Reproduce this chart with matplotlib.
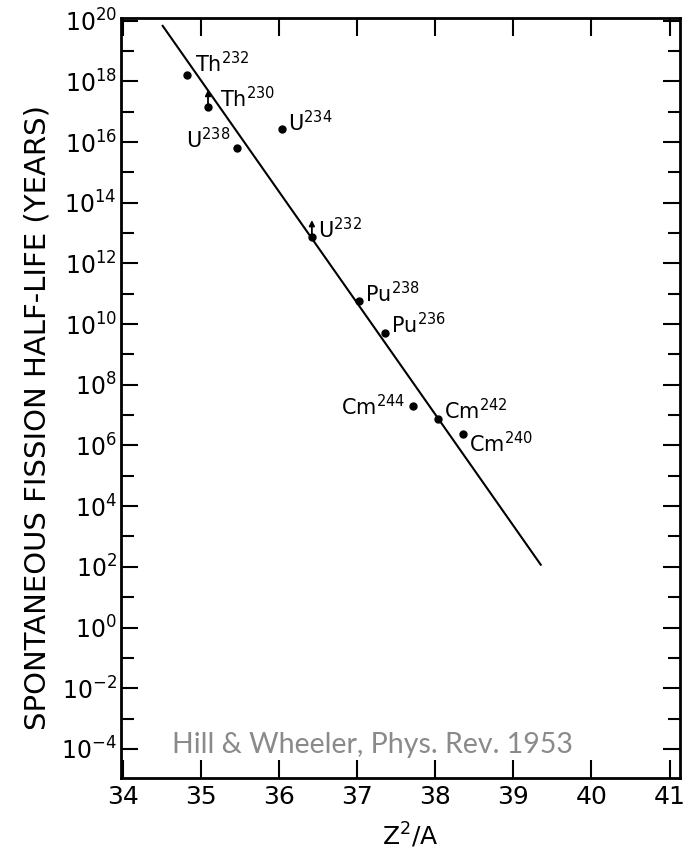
import numpy as np
import matplotlib
matplotlib.use("Agg")
import matplotlib.pyplot as plt
from matplotlib.ticker import FixedLocator, FuncFormatter, NullFormatter
from matplotlib.transforms import ScaledTranslation

plt.rcParams["font.family"] = ["DejaVu Sans"]
plt.rcParams["mathtext.fontset"] = "dejavusans"

# Measured spontaneous-fission half-lives vs fissility parameter Z^2/A
isotopes = ["Th", "Th", "U", "U", "U", "Pu", "Pu", "Cm", "Cm", "Cm"]
mass_numbers = ["232", "230", "238", "234", "232", "238", "236", "244", "242", "240"]
z2_over_a = [34.82, 35.09, 35.46, 36.04, 36.42, 37.02, 37.35, 37.71, 38.03, 38.35]
log10_halflife = [18.21, 17.16, 15.80, 16.43, 12.87, 10.77, 9.71, 7.30, 6.86, 6.39]
lower_limit = [False, True, False, False, True, False, False, False, False, False]

# label placement: offset in pixels (dx, dy) and horizontal alignment
label_dx = [8, 12, -7, 6, 6, 6, 6, -8, 6, 6]
label_dy = [3, 0, 0, -2, -1, -1, 0, -9, 0, -19]
label_ha = ["left", "left", "right", "left", "left", "left", "left", "right", "left", "left"]

# Empirical trend line
trend_x = [34.51, 39.35]
trend_log10 = [19.83, 2.07]

y_major_exp = list(range(-4, 21, 2))
y_minor_exp = list(range(-5, 20, 2))
x_ticks = [34, 35, 36, 37, 38, 39, 40, 41]

fig = plt.figure(figsize=(6.95, 8.57), dpi=100)
ax = fig.add_axes([0.1741, 0.0922, 0.8043, 0.8868])
ax.set_yscale("log")
ax.set_xlim(33.976, 41.133)
ax.set_ylim(10 ** -4.96, 10 ** 20.09)

yvals = np.power(10.0, log10_halflife)
ax.plot(trend_x, np.power(10.0, trend_log10), color="black", lw=1.5, zorder=2)
ax.plot(z2_over_a, yvals, "o", color="black", ms=5, zorder=3)

for x, y, el, a, dx, dy, ha, lim in zip(z2_over_a, yvals, isotopes, mass_numbers,
                                        label_dx, label_dy, label_ha, lower_limit):
    ax.annotate(f"{el}$^{{{a}}}$", xy=(x, y), xytext=(dx, dy), textcoords="offset pixels",
                ha=ha, va="baseline", fontsize=15, color="black")
    if lim:
        up = ax.transData + ScaledTranslation(0, 0.17, fig.dpi_scale_trans)
        ax.annotate("", xy=(x, y), xycoords=up, xytext=(x, y), textcoords="data",
                    arrowprops=dict(arrowstyle="-|>", color="black", lw=1.3,
                                    mutation_scale=8, shrinkA=0, shrinkB=0))

ax.xaxis.set_major_locator(FixedLocator(x_ticks))
ax.yaxis.set_major_locator(FixedLocator([10.0 ** e for e in y_major_exp]))
ax.yaxis.set_minor_locator(FixedLocator([10.0 ** e for e in y_minor_exp]))
ax.yaxis.set_major_formatter(FuncFormatter(lambda v, p: f"$10^{{{int(round(np.log10(v)))}}}$"))
ax.yaxis.set_minor_formatter(NullFormatter())
ax.xaxis.set_minor_locator(FixedLocator([]))

ax.tick_params(axis="both", which="both", direction="in", top=True, right=True, width=1.5)
ax.tick_params(axis="x", which="major", length=13, labelsize=18, pad=5)
ax.tick_params(axis="y", which="major", length=12, labelsize=17, pad=3)
ax.tick_params(axis="y", which="minor", length=9)

for s in ax.spines.values():
    s.set_linewidth(2)

fig.text(0.054, 1 - 418 / 857, "SPONTANEOUS FISSION HALF-LIFE (YEARS)", rotation=90,
         ha="center", va="center", fontsize=21)
fig.text(410 / 695, 1 - 835 / 857, "Z$^2$/A", ha="center", va="center", fontsize=18)

fig.text(372 / 695, 1 - 745 / 857, "Hill & Wheeler, Phys. Rev. 1953", ha="center",
         va="center", fontsize=20.5, color="#8a8a8a", family=["Lato", "DejaVu Sans"])

fig.savefig("out.png", dpi=100)
